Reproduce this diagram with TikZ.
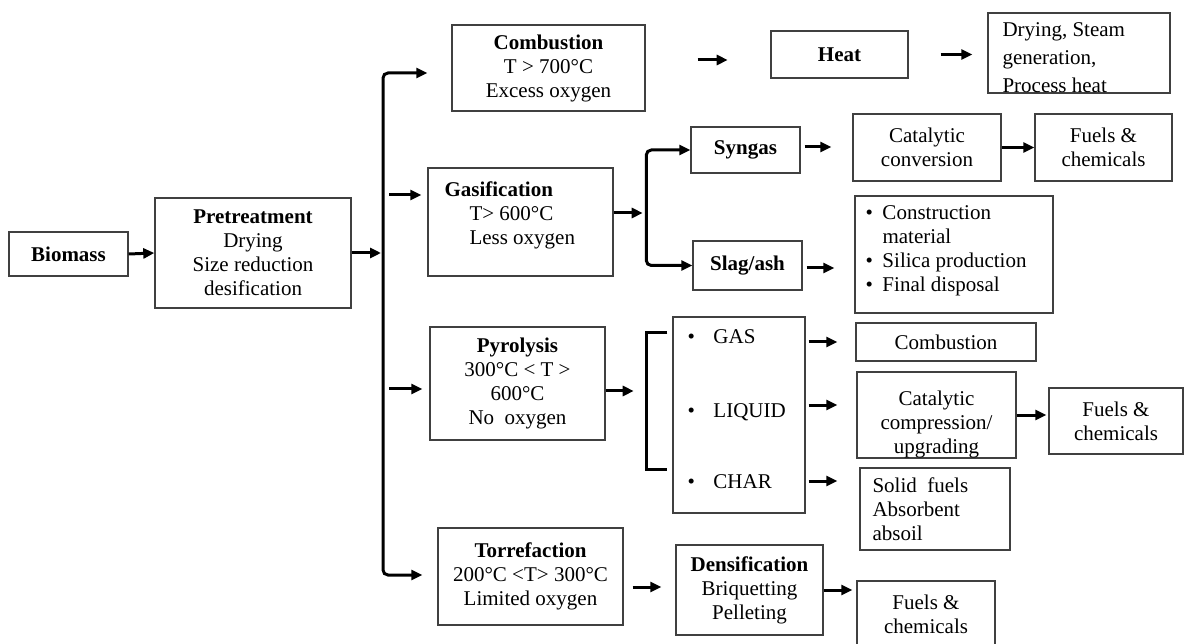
\documentclass[tikz,border=0pt]{standalone}
\usepackage{fontspec}
\setmainfont{Liberation Serif}
\usetikzlibrary{arrows.meta}
\tikzset{
  box/.style={draw=black!75, line width=1.4pt, inner sep=2pt, align=center},
  conn/.style={line width=3pt, -{Triangle[length=11pt,width=10pt]}},
  bothtips/.style={line width=3pt, {Triangle[length=11pt,width=10pt]}-{Triangle[length=11pt,width=10pt]}},
  plain/.style={line width=3pt},
  txt/.style={inner sep=0pt, align=left}
}
\begin{document}
\begin{tikzpicture}[x=1pt,y=-1pt,font=\fontsize{21}{24}\selectfont]
\path[use as bounding box] (0,0) rectangle (1184,644);
\clip (0,0) rectangle (1184,644);

% column 1
\node[box, minimum width=119, minimum height=44] (bio) at (68.5,254) {\textbf{Biomass}};
\node[box, minimum width=196, minimum height=110] (pre) at (253,253) {\textbf{Pretreatment}\\Drying\\Size reduction\\desification};

% trunk junctions
\coordinate (jt) at (383,73);
\coordinate (jb) at (383,575);

% combustion row
\node[box, minimum width=193, minimum height=86] (comb) at (548.5,68) {\textbf{Combustion}\\T > 700°C\\Excess oxygen};
\node[box, minimum width=137, minimum height=47] (heat) at (839.5,54.5) {\textbf{Heat}};
\node[box, minimum width=182, minimum height=80] (dry) at (1079,53) {};
\begin{scope}
  \clip ([shift={(1,1)}]dry.north west) rectangle ([shift={(-1,-1)}]dry.south east);
  \node[txt, anchor=north west] at ([shift={(15,10)}]dry.north west) {Drying, Steam\\[4pt]generation,\\[4pt]Process heat};
\end{scope}

% gasification row
\node[box, minimum width=185, minimum height=108] (gas) at (520.5,222) {};
\node[txt, anchor=north west] at ([shift={(17,14)}]gas.north west) {\textbf{Gasification}\\\hspace*{25pt}T> 600°C\\\hspace*{25pt}Less oxygen};
\node[box, minimum width=109, minimum height=46] (syn) at (745.5,150) {\textbf{Syngas}};
\node[box, minimum width=109, minimum height=49] (slag) at (747.5,265.5) {\textbf{Slag/ash}};
\node[box, minimum width=148, minimum height=67] (cat) at (927,147.5) {Catalytic\\conversion};
\node[box, minimum width=137, minimum height=67] (fuel1) at (1103.5,147.5) {Fuels \&\\chemicals};
\node[box, minimum width=198, minimum height=117] (bul) at (954,254.5) {};
\node[txt, anchor=north west] at ([shift={(11,10)}]bul.north west) {\makebox[17pt][l]{\textbullet}Construction\\\hspace*{17pt}material\\\makebox[17pt][l]{\textbullet}Silica production\\\makebox[17pt][l]{\textbullet}Final disposal};

% pyrolysis row
\node[box, minimum width=175, minimum height=113] (pyr) at (517.5,383.5) {\textbf{Pyrolysis}\\300°C < T >\\600°C\\No\enspace oxygen};
\node[box, minimum width=132, minimum height=196] (prod) at (739,415) {};
\node[txt, anchor=base west] (pg) at ([shift={(15,27)}]prod.north west) {\makebox[26pt][l]{\textbullet}GAS};
\node[txt, anchor=base west] (pl) at ([shift={(15,101)}]prod.north west) {\makebox[26pt][l]{\textbullet}LIQUID};
\node[txt, anchor=base west] (pc) at ([shift={(15,172)}]prod.north west) {\makebox[26pt][l]{\textbullet}CHAR};
\node[box, minimum width=180, minimum height=38] (comb2) at (946,342) {Combustion};
\node[box, minimum width=159, minimum height=86] (catc) at (936.5,415) {};
\begin{scope}
  \clip ([shift={(1,1)}]catc.north west) rectangle ([shift={(-1,-1)}]catc.south east);
  \node[align=center, inner sep=0pt] at ([shift={(0,9)}]catc.center) {Catalytic\\compression/\\upgrading};
\end{scope}
\node[box, minimum width=134, minimum height=66] (fuel2) at (1116,421) {Fuels \&\\chemicals};
\node[box, minimum width=150, minimum height=82] (solid) at (935,509) {};
\node[txt, anchor=north west] at ([shift={(13,10)}]solid.north west) {Solid\enspace fuels\\Absorbent\\absoil};

% torrefaction row
\node[box, minimum width=185, minimum height=97] (torr) at (530.5,576.5) {\textbf{Torrefaction}\\200°C <T> 300°C\\Limited oxygen};
\node[box, minimum width=147, minimum height=90] (dens) at (749.5,590) {\textbf{Densification}\\Briquetting\\Pelleting};
\node[box, minimum width=138, minimum height=66] (fuel3) at (926,614) {Fuels \&\\chemicals};

% connectors
\draw[conn] (bio.east) -- (pre.west);
\draw[conn] (pre.east) -- ([xshift=-2]pre.east -| jt);
\draw[bothtips, rounded corners=5pt] ([xshift=-24]comb.west |- jt) -- (jt) -- (jb) -- ([xshift=-15]torr.west |- jb);
\draw[conn] ([shift={(-38,-27)}]gas.west) -- ([shift={(-6,-27)}]gas.west);
\draw[conn] ([shift={(-40,5.5)}]pyr.west) -- ([shift={(-7,5.5)}]pyr.west);

\draw[conn] ([shift={(52,-8)}]comb.east) -- ([shift={(82,-8)}]comb.east);
\draw[conn] ([xshift=32]heat.east) -- ([xshift=-15]heat.east -| dry.west);

\draw[conn] ([shift={(0,-9)}]gas.east) -- ([shift={(29,-9)}]gas.east);
\draw[bothtips, rounded corners=5pt] (syn.west) -- ([xshift=-44]syn.west) -- ([xshift=-44]syn.west |- slag.west) -- (slag.west);
\draw[conn] ([shift={(4,-3)}]syn.east) -- ([shift={(-21,-3)}]syn.east -| cat.west);
\draw[conn] (cat.east) -- (fuel1.west);
\draw[conn] ([shift={(4,2.5)}]slag.east) -- ([shift={(-20,2.5)}]slag.east -| bul.west);

\draw[conn] ([shift={(0,7.5)}]pyr.east) -- ([shift={(28,7.5)}]pyr.east);
\draw[plain] ([shift={(-5,16)}]prod.north west) -- ++(-21,0) -- ++(0,137) -- ++(21,0);
\draw[conn] ([xshift=3]prod.east |- comb2.west) -- ([xshift=-18]comb2.west);
\draw[conn] ([shift={(3,-10)}]prod.east |- catc.west) -- ([shift={(-19,-10)}]catc.west);
\draw[conn] ([shift={(3,-28)}]prod.east |- solid.west) -- ([shift={(-22,-28)}]solid.west);
\draw[conn] (catc.east) -- ([xshift=-2]catc.east -| fuel2.west);

\draw[conn] ([shift={(9,10.5)}]torr.east) -- ([shift={(-14,10.5)}]torr.east -| dens.west);
\draw[conn] (dens.east) -- ([xshift=-4]dens.east -| fuel3.west);
\end{tikzpicture}
\end{document}
